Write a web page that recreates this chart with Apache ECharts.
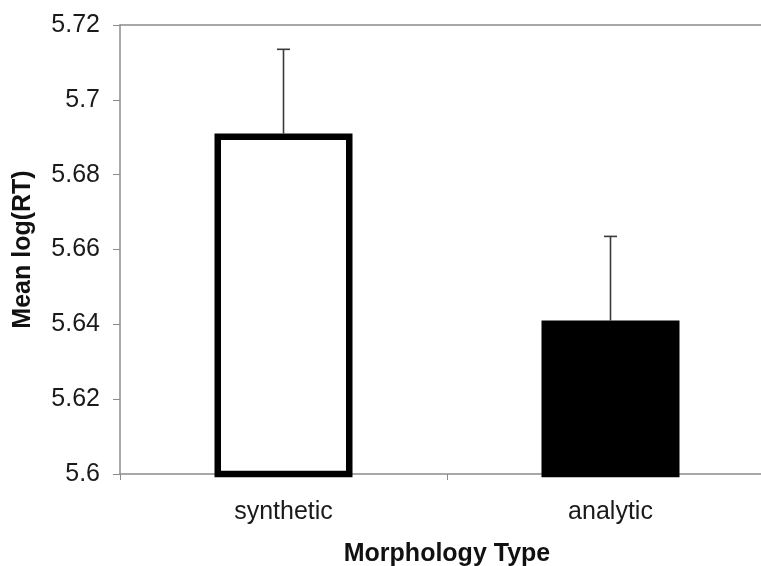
<!DOCTYPE html>
<html>
<head>
<meta charset="utf-8">
<script src="https://cdn.jsdelivr.net/npm/echarts@6/dist/echarts.min.js"></script>
<style>
  html, body { margin: 0; padding: 0; background: #fff; }
  #chart { width: 761px; height: 566px; }
</style>
</head>
<body>
<div id="chart"></div>
<script>
// Mean log reaction time by morphology type, with standard error
const categories = ['synthetic', 'analytic'];
const meanLogRT = [5.691, 5.641];
const errorUp = [0.0225, 0.0225];
const barFills = ['#ffffff', '#000000'];
const yTicks = { min: 5.6, max: 5.72, step: 0.02 };

const FONT = '"Liberation Sans", Arial, Helvetica, sans-serif';
const AXIS_GRAY = '#8c8c8c';

const chart = echarts.init(document.getElementById('chart'), null, { renderer: 'canvas' });

const barData = meanLogRT.map((v, i) => ({
  value: v,
  itemStyle: { color: barFills[i], borderColor: '#000', borderWidth: 6.5 }
}));

const errData = meanLogRT.map((v, i) => [i, v, v + errorUp[i]]);

chart.setOption({
  animation: false,
  backgroundColor: '#ffffff',
  // plot area runs past the right edge of the canvas
  grid: {
    left: 120, top: 25, width: 654, height: 449,
    containLabel: false,
    outerBoundsMode: 'none'
  },
  xAxis: [
    {
      type: 'category',
      data: categories,
      boundaryGap: true,
      axisLine: { show: true, lineStyle: { color: AXIS_GRAY, width: 1.5 } },
      axisTick: { show: true, inside: false, length: 6, alignWithLabel: false, lineStyle: { color: AXIS_GRAY, width: 1 } },
      axisLabel: { color: '#1a1a1a', fontSize: 25, fontFamily: FONT, margin: 26 },
      name: 'Morphology Type',
      nameLocation: 'middle',
      nameGap: 68,
      nameTextStyle: { color: '#111', fontSize: 25, fontWeight: 'bold', fontFamily: FONT },
      splitLine: { show: false }
    },
    {
      // plot-area top border
      type: 'category',
      position: 'top',
      data: categories,
      axisLine: { show: true, lineStyle: { color: AXIS_GRAY, width: 1.5 } },
      axisTick: { show: false },
      axisLabel: { show: false },
      splitLine: { show: false }
    }
  ],
  yAxis: {
    type: 'value',
    min: yTicks.min,
    max: yTicks.max,
    interval: yTicks.step,
    axisLine: { show: true, lineStyle: { color: AXIS_GRAY, width: 1.5 } },
    axisTick: { show: true, inside: false, length: 7, lineStyle: { color: AXIS_GRAY, width: 1 } },
    axisLabel: {
      color: '#1a1a1a', fontSize: 25, fontFamily: FONT, margin: 20,
      formatter: v => String(Math.round(v * 100) / 100)
    },
    splitLine: { show: false },
    name: 'Mean log(RT)',
    nameLocation: 'middle',
    nameGap: 84,
    nameTextStyle: { color: '#111', fontSize: 25, fontWeight: 'bold', fontFamily: FONT }
  },
  series: [
    {
      type: 'bar',
      data: barData,
      barWidth: 138,
      z: 2
    },
    {
      type: 'custom',
      z: 3,
      data: errData,
      renderItem: function (params, api) {
        const i = api.value(0);
        const base = api.coord([i, api.value(1)]);
        const top = api.coord([i, api.value(2)]);
        const cap = 6.5;
        const style = { stroke: '#3a3a3a', lineWidth: 1.6 };
        return {
          type: 'group',
          children: [
            { type: 'line', shape: { x1: base[0], y1: base[1], x2: top[0], y2: top[1] }, style: style },
            { type: 'line', shape: { x1: top[0] - cap, y1: top[1], x2: top[0] + cap, y2: top[1] }, style: style }
          ]
        };
      }
    }
  ]
});
</script>
</body>
</html>
